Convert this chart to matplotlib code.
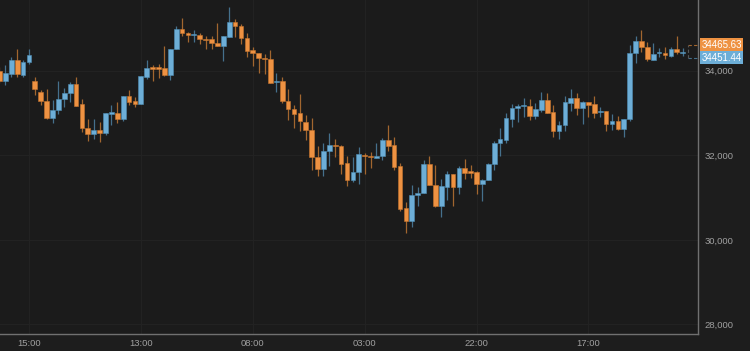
import numpy as np
import matplotlib.pyplot as plt
from matplotlib.transforms import blended_transform_factory

plt.rcParams['font.family'] = ['Liberation Sans', 'DejaVu Sans']

# OHLC, left to right
opens = [34000, 33750, 33920, 34255, 33905, 34200, 33750, 33505, 33290, 32880,
         33065, 33330, 33470, 33680, 33205, 32645, 32505, 32600, 32525, 32985,
         33005, 32850, 33395, 33275, 33220, 33845, 34080, 34080, 34055, 33890,
         34520, 34995, 34900, 34850, 34850, 34755, 34750, 34655, 34575, 34795,
         35150, 35065, 34775, 34480, 34425, 34300, 34285, 33740, 33765, 33290,
         33095, 32995, 32785, 32600, 31950, 31675, 32110, 32250, 32220, 31810,
         31415, 31600, 32005, 31985, 31935, 31990, 32370, 32245, 31745, 30755,
         30445, 31055, 31100, 31795, 31305, 30800, 31255, 31560, 31255, 31705,
         31620, 31605, 31320, 31415, 31785, 32285, 32370, 32865, 33110, 33160,
         33165, 32930, 33070, 33305, 33030, 32565, 32710, 33245, 33345, 33110,
         33265, 33205, 33025, 33045, 32730, 32820, 32615, 32860, 34420, 34700,
         34555, 34255, 34410, 34420, 34345, 34520, 34420]
highs = [34095, 34125, 34315, 34505, 34255, 34505, 33845, 33545, 33565, 33305,
         33755, 33590, 33725, 33860, 33340, 32860, 32860, 32785, 32995, 33195,
         33255, 33395, 33550, 33385, 33865, 34245, 34125, 34150, 34575, 34520,
         35055, 35255, 34915, 34970, 34885, 34820, 34820, 35120, 34820, 35500,
         35220, 35105, 34890, 34565, 34425, 34385, 34480, 33940, 33860, 33575,
         33190, 33450, 32945, 32890, 32225, 32300, 32525, 32385, 32250, 31985,
         31965, 32205, 32045, 32085, 32285, 32415, 32715, 32430, 31825, 30905,
         31300, 31255, 31890, 31985, 31770, 31440, 31630, 31560, 31755, 31905,
         31770, 31620, 31440, 31825, 32330, 32640, 32995, 33205, 33205, 33345,
         33340, 33230, 33490, 33465, 33190, 32810, 33410, 33565, 33465, 33290,
         33265, 33400, 33135, 33045, 32970, 32930, 32865, 34605, 34820, 34960,
         34680, 34645, 34535, 34555, 34565, 34820, 34535]
lows = [33715, 33670, 33860, 33860, 33860, 34160, 33420, 33195, 32865, 32765,
        32985, 33140, 33255, 33170, 32550, 32345, 32380, 32305, 32485, 32725,
        32770, 32820, 33195, 33150, 33220, 33810, 33755, 33825, 33875, 33775,
        34520, 34825, 34680, 34680, 34640, 34505, 34520, 34575, 34235, 34795,
        34795, 34625, 34330, 34110, 33950, 33930, 33715, 33505, 33230, 32825,
        32640, 32575, 32370, 31650, 31515, 31515, 31740, 31960, 31565, 31280,
        31375, 31315, 31550, 31705, 31935, 31890, 32110, 31650, 30685, 30170,
        30310, 30800, 31100, 31300, 30770, 30535, 30945, 30800, 31080, 31440,
        31470, 31085, 30925, 31415, 31650, 31985, 32285, 32675, 32780, 32910,
        32835, 32850, 33030, 33005, 32440, 32380, 32580, 33055, 32950, 32730,
        32910, 32890, 32900, 32580, 32590, 32600, 32440, 32810, 34190, 34435,
        34235, 34245, 34330, 34275, 34330, 34395, 34345]
closes = [33750, 33940, 34255, 33920, 34210, 34370, 33575, 33285, 32880, 33065,
          33340, 33480, 33680, 33170, 32640, 32505, 32600, 32535, 32995, 33015,
          32850, 33395, 33260, 33210, 33865, 34070, 34045, 34045, 33890, 34520,
          34995, 34885, 34835, 34875, 34755, 34730, 34645, 34575, 34820, 35150,
          35055, 34765, 34465, 34410, 34295, 34270, 33715, 33765, 33285, 33095,
          32970, 32805, 32590, 31950, 31675, 32100, 32250, 32220, 31785, 31415,
          31605, 32025, 31975, 31960, 31990, 32370, 32225, 31730, 30730, 30445,
          31060, 31115, 31795, 31300, 30800, 31275, 31560, 31245, 31705, 31590,
          31590, 31320, 31425, 31795, 32300, 32380, 32890, 33120, 33165, 33180,
          32930, 33085, 33305, 33005, 32565, 32715, 33255, 33345, 33125, 33265,
          33190, 33005, 33045, 32740, 32820, 32615, 32865, 34425, 34700, 34555,
          34270, 34400, 34435, 34365, 34520, 34440, 34440]

x_labels = ['15:00', '13:00', '08:00', '03:00', '22:00', '17:00']
x_label_pos = [5, 24, 43, 62, 81, 100]
y_ticks = [28000, 30000, 32000, 34000]
last_prices = [34465.63, 34451.44]

up_col = '#6daed7'
down_col = '#ee9242'
up_wick = '#45708c'
down_wick = '#a2662f'
bg = '#1b1b1b'

o = np.array(opens, dtype=float)
h = np.array(highs, dtype=float)
l = np.array(lows, dtype=float)
c = np.array(closes, dtype=float)
x = np.arange(len(o))
rising = c >= o

fig = plt.figure(figsize=(7.5, 3.51), dpi=100, facecolor='#1d1d1d')
ax = fig.add_axes([0, 16.7 / 351, 698 / 750, 334.3 / 351])
ax.set_facecolor(bg)

# grid, barely visible
for xp in x_label_pos:
    ax.axvline(xp, color='#222222', lw=0.8, zorder=0)
for yp in y_ticks:
    ax.axhline(yp, color='#222222', lw=0.8, zorder=0)

# wicks
ax.vlines(x, l, h, colors=np.where(rising, up_wick, down_wick), lw=0.9, zorder=2)

# bodies
body_lo = np.minimum(o, c)
body_h = np.maximum(np.abs(c - o), 25)
ax.bar(x, body_h, bottom=body_lo, width=0.8,
       color=np.where(rising, up_col, down_col),
       edgecolor=np.where(rising, '#4f8fb5', '#c7752f'), linewidth=0.4, zorder=3)

ax.set_xlim(0.085, 118.6)
ax.set_ylim(27768, 35671)

ax.set_xticks(x_label_pos)
ax.set_xticklabels(x_labels)
ax.set_yticks(y_ticks)
ax.set_yticklabels([f'{v:,}' for v in y_ticks])
ax.yaxis.tick_right()
ax.tick_params(axis='both', length=0, labelsize=6.8, colors='#a0a0a0')
ax.tick_params(axis='y', pad=4.5)
ax.tick_params(axis='x', pad=3.3)

for s in ['top', 'left']:
    ax.spines[s].set_visible(False)
for s in ['bottom', 'right']:
    ax.spines[s].set_color('#707070')
    ax.spines[s].set_linewidth(1.0)

# last price labels, pulled apart so they do not overlap
mid = sum(last_prices) / 2
gap = 150
lab_y = [mid + gap, mid - gap]
lab_col = [down_col, up_col]
tr = blended_transform_factory(ax.transAxes, ax.transData)
for p, yy, col in zip(last_prices, lab_y, lab_col):
    ax.text(1.005, yy, f'{p:.2f}', transform=tr, ha='left', va='center',
            fontsize=7, color='white', clip_on=False, zorder=6,
            bbox=dict(boxstyle='square,pad=0.15', facecolor=col, edgecolor='none'))

# dashed bracket joining the last candle to the labels
xb = len(o) - 0.1
ax.plot([xb, 118.6], [lab_y[0], lab_y[0]], color=down_wick, lw=0.8, ls=(0, (3, 2)), zorder=4)
ax.plot([xb, 118.6], [lab_y[1], lab_y[1]], color=up_wick, lw=0.8, ls=(0, (3, 2)), zorder=4)
ax.plot([xb, xb], [lab_y[1], lab_y[0]], color='#555555', lw=0.8, ls=(0, (3, 2)), zorder=4)

fig.savefig('out.png', dpi=100, facecolor=fig.get_facecolor())
